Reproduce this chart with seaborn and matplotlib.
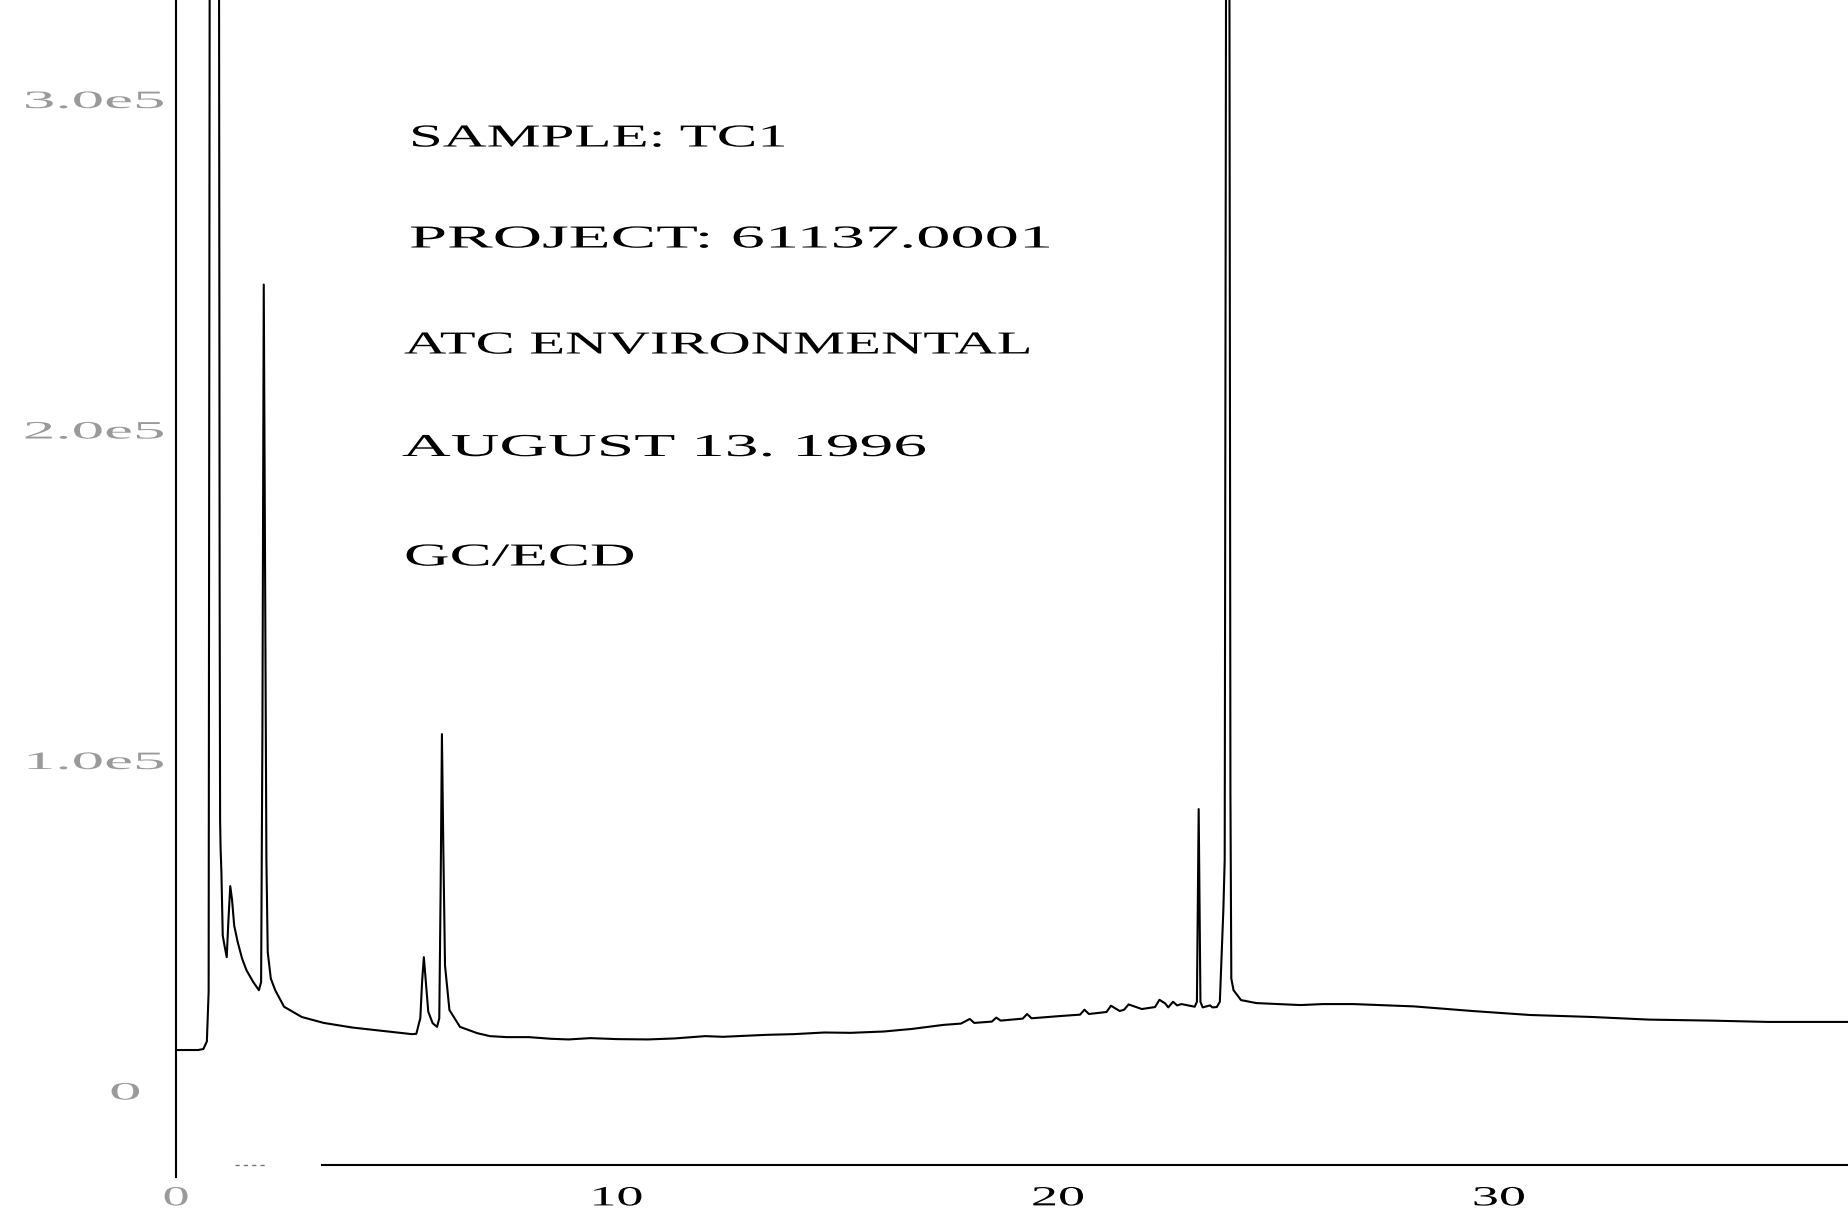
import matplotlib
matplotlib.use("Agg")
import matplotlib.pyplot as plt
import matplotlib.patheffects as pe
import matplotlib.transforms as mtransforms
import pandas as pd
import seaborn as sns

# ---- chromatogram trace: retention time (min) and detector response (counts) ----
time_min = [
    0.00, 0.50, 0.62, 0.70, 0.74, 0.77, 0.97, 0.99, 1.00, 1.01, 1.03, 1.06, 1.10, 1.15,
    1.19, 1.23, 1.27, 1.32, 1.40, 1.50, 1.60, 1.75, 1.88, 1.93, 1.96, 1.99, 2.02, 2.05,
    2.08, 2.15, 2.25, 2.45, 2.85, 3.35, 4.00, 4.60, 5.35, 5.45, 5.50, 5.54, 5.58, 5.62,
    5.66, 5.72, 5.82, 5.92, 5.97, 6.00, 6.03, 6.06, 6.10, 6.20, 6.44, 6.83, 7.12, 7.50,
    8.00, 8.50, 8.90, 9.40, 10.0, 10.7, 11.3, 12.0, 12.4, 13.4, 14.0, 14.7, 15.3, 16.05,
    16.7, 17.4, 17.8, 18.0, 18.1, 18.5, 18.6, 18.7, 19.2, 19.3, 19.4, 20.07, 20.5, 20.6,
    20.7, 21.1, 21.2, 21.4, 21.5, 21.6, 21.9, 22.0, 22.2, 22.3, 22.43, 22.5, 22.61, 22.7,
    22.8, 23.1, 23.15, 23.19, 23.23, 23.28, 23.45, 23.50, 23.6, 23.67, 23.72, 23.75, 23.78,
    23.82, 23.88, 23.91, 23.93, 23.98, 24.15, 24.5, 25.2, 25.5, 26.0, 26.7, 27.5, 28.07,
    29.4, 30.7, 32.1, 33.4, 34.8, 36.1, 37.91,
]
response = [
    12400, 12400, 12700, 15000, 30000, 420000, 420000, 150000, 82000, 74000, 66000, 47000, 44000, 40500,
    52000, 62000, 58000, 50000, 45000, 40000, 36500, 33000, 30500, 33000, 110000, 244000, 160000, 70000,
    42000, 34000, 30500, 25500, 22400, 20600, 19200, 18300, 17200, 17300, 20000, 22000, 33000, 40500,
    34000, 24000, 20500, 19400, 22000, 60000, 108000, 75000, 38000, 24500, 19400, 17500, 16600, 16300,
    16300, 15800, 15600, 16000, 15700, 15600, 15900, 16600, 16400, 17000, 17200, 17700, 17600, 18000,
    18800, 20000, 20400, 21800, 20600, 21000, 22200, 21300, 21900, 23300, 22000, 22700, 23100, 24600,
    23300, 23900, 25800, 24200, 24600, 26200, 24800, 25000, 25400, 27600, 26500, 25300, 27000, 25900,
    26300, 25500, 27000, 85300, 27000, 25300, 25900, 25300, 25400, 27000, 45000, 55000, 70000,
    420000, 420000, 90000, 34000, 30500, 27500, 26600, 26200, 26000, 26300, 26300, 25900, 25600,
    24200, 23000, 22400, 21600, 21300, 20900, 20900,
]

# ---- axes ticks and labels ----
y_ticks = [0, 100000, 200000, 300000]
y_tick_labels = ["0", "1.0e5", "2.0e5", "3.0e5"]
x_major_ticks = [0, 10, 20, 30]
x_major_labels = ["0", "10", "20", "30"]
x_minor_ticks = [2, 4, 6, 8, 12, 14, 16, 18, 22, 24, 26, 28, 32, 34, 36]

# ---- header block ----
header_lines = [
    "SAMPLE: TC1",
    "PROJECT: 61137.0001",
    "ATC ENVIRONMENTAL",
    "AUGUST 13. 1996",
    "GC/ECD",
]


class Widen(pe.AbstractPathEffect):
    """Stretch glyphs horizontally, like a pen-plotter font."""

    def __init__(self, factor=None, width_px=None, anchor="left"):
        super().__init__()
        self.factor = factor
        self.width_px = width_px
        self.anchor = anchor

    def draw_path(self, renderer, gc, tpath, affine, rgbFace=None):
        ext = tpath.get_extents()
        if self.anchor == "right":
            x0 = ext.x1
        elif self.anchor == "center":
            x0 = 0.5 * (ext.x0 + ext.x1)
        else:
            x0 = 0.0
        sx = self.factor
        if self.width_px is not None:
            scale = affine.get_matrix()[0, 0]
            sx = self.width_px / (ext.x1 * scale)
        stretch = mtransforms.Affine2D().translate(-x0, 0).scale(sx, 1).translate(x0, 0)
        renderer.draw_path(gc, tpath, stretch + affine, rgbFace)


sns.set_theme(style="white")
plt.rcParams["font.family"] = ["Liberation Serif", "DejaVu Serif"]

W, H, DPI = 1848, 1208, 100
fig = plt.figure(figsize=(W / DPI, H / DPI), dpi=DPI, facecolor="white")
ax = fig.add_axes([0, 0, 1, 1])
ax.set_facecolor("white")

df = pd.DataFrame({"time": time_min, "response": response})
sns.lineplot(data=df, x="time", y="response", ax=ax, color="black",
             linewidth=1.5, estimator=None, sort=False)
ax.set_xlabel("")
ax.set_ylabel("")

# data window: 44.1 px per minute, 330.5 px per 1e5 counts
px_min, px_count = 44.1, 330.5 / 1e5
x0_px, y0_px = 176, 1091
ax.set_xlim(-x0_px / px_min, (W - x0_px) / px_min)
ax.set_ylim(-(H - y0_px) / px_count, y0_px / px_count)

for side in ("top", "right"):
    ax.spines[side].set_visible(False)
axis_y = -74 / px_count
ax.spines["left"].set_position(("data", 0))
ax.spines["left"].set_bounds(-86 / px_count, y0_px / px_count)
ax.spines["bottom"].set_position(("data", axis_y))
ax.spines["bottom"].set_bounds(3.3, (W - x0_px) / px_min)
for side in ("left", "bottom"):
    ax.spines[side].set_color("black")
    ax.spines[side].set_linewidth(1.5)

# faint stub of the time axis ahead of the solid line
ax.plot([1.34, 2.06], [axis_y, axis_y], color="#777777", lw=1.0,
        linestyle=(0, (3, 3)))

ax.set_yticks(y_ticks, y_tick_labels)
ax.set_xticks(x_major_ticks, x_major_labels)
ax.set_xticks(x_minor_ticks, minor=True)
ax.tick_params(axis="y", length=0, pad=8.6, labelsize=18, labelcolor="#9a9a9a")
ax.tick_params(axis="x", which="major", length=10, width=1.4, direction="out",
               pad=5.4, labelsize=20, colors="black")
ax.tick_params(axis="x", which="minor", length=4.5, width=1.2, direction="out",
               colors="black")
ax.grid(False)

for lab in ax.get_yticklabels():
    lab.set_path_effects([Widen(factor=2.6, anchor="right")])
    if lab.get_text() == "0":
        lab.set_transform(lab.get_transform()
                          + mtransforms.ScaledTranslation(-0.24, 0, fig.dpi_scale_trans))
for lab in ax.get_xticklabels():
    lab.set_path_effects([Widen(factor=1.95, anchor="center")])
    if lab.get_text() == "0":
        lab.set_color("#9a9a9a")

# header text block (pixel layout from the top-left corner)
header_left = [409, 409, 404, 402, 404]
header_base = [146.5, 247.5, 353.5, 456, 565.5]
header_width = [375, 640, 625, 523, 229]
for text, lx, by, wpx in zip(header_lines, header_left, header_base, header_width):
    fig.text(lx / W, 1 - by / H, text, fontsize=23, color="black",
             ha="left", va="baseline",
             path_effects=[Widen(width_px=wpx, anchor="left")])

fig.savefig("out.png", dpi=DPI, facecolor="white")
